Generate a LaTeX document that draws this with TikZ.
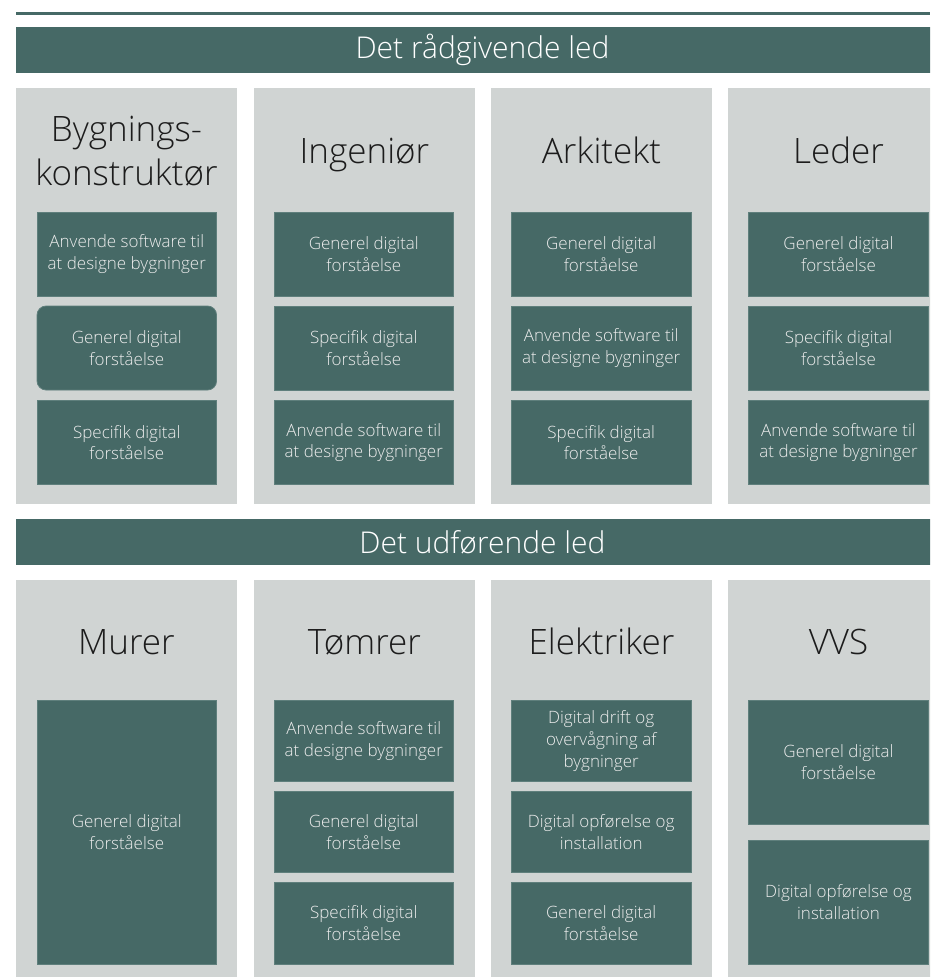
\documentclass[tikz,border=0pt]{standalone}
\usepackage{fontspec}
\setmainfont{Open Sans Light}
\definecolor{dteal}{HTML}{466966}
\definecolor{bteal}{HTML}{5F7F7C}
\definecolor{lgray}{HTML}{D0D4D3}
\definecolor{boxtext}{HTML}{EDEDED}
\definecolor{titletext}{HTML}{1C1C1C}
\begin{document}
\begin{tikzpicture}[x=1pt,y=-1pt,
  colbox/.style={fill=lgray, draw=none, anchor=north west, inner sep=0, minimum width=221pt},
  bandbox/.style={fill=dteal, draw=none, inner sep=0, minimum width=933pt, minimum height=46pt},
  bandtext/.style={text=white, font=\fontsize{30}{36}\selectfont, inner sep=0},
  skill/.style={fill=dteal, draw=bteal, line width=0.8pt, text=boxtext, align=center,
    font=\fontsize{17}{21.7}\selectfont, inner sep=0, minimum width=179.5pt},
  ctitle/.style={text=titletext, font=\fontsize{35}{44}\selectfont, anchor=base, inner sep=0}]
\useasboundingbox (0,0) rectangle (930,977);
\clip (0,0) rectangle (930,977);
\fill[white] (0,0) rectangle (930,977);
% top rule
\fill[dteal] (16,12.3) rectangle (930,15);
% band 1
\node[bandbox] (band1) at (482.5,50) {};
\node[bandtext] (band1t) at (482.5,50) {\vphantom{D}Det rådgivende led};
% upper columns
\node[colbox, minimum height=416pt] (c1) at (16,88) {};
\node[colbox, minimum height=416pt] (c2) at (254,88) {};
\node[colbox, minimum height=416pt] (c3) at (491,88) {};
\node[colbox, minimum height=416pt] (c4) at (728,88) {};
\node[ctitle] (t1a) at (126.5,141) {Bygnings-};
\node[ctitle] (t1b) at (126.5,185) {konstruktør};
\node[ctitle] (t2) at (364.5,163) {Ingeniør};
\node[ctitle] (t3) at (601.5,163) {Arkitekt};
\node[ctitle] (t4) at (838.5,163) {Leder};
% upper skill boxes
\node[skill, minimum height=84pt] (a1) at (126.8,253.9) {Anvende software til\\at designe bygninger};
\node[skill, minimum height=84pt, rounded corners=9pt] (a2) at (126.8,348) {Generel digital\\forståelse};
\node[skill, minimum height=84pt] (a3) at (126.8,442.5) {Specifik digital\\forståelse};
\node[skill, minimum height=84pt] (b1) at (363.8,253.9) {Generel digital\\forståelse};
\node[skill, minimum height=84pt] (b2) at (363.8,348) {Specifik digital\\forståelse};
\node[skill, minimum height=84pt] (b3) at (363.8,442.5) {Anvende software til\\at designe bygninger};
\node[skill, minimum height=84pt] (c1s) at (601.2,253.9) {Generel digital\\forståelse};
\node[skill, minimum height=84pt] (c2s) at (601.2,348) {Anvende software til\\at designe bygninger};
\node[skill, minimum height=84pt] (c3s) at (601.2,442.5) {Specifik digital\\forståelse};
\node[skill, minimum height=84pt] (d1) at (838.5,253.9) {Generel digital\\forståelse};
\node[skill, minimum height=84pt] (d2) at (838.5,348) {Specifik digital\\forståelse};
\node[skill, minimum height=84pt] (d3) at (838.5,442.5) {Anvende software til\\at designe bygninger};
% band 2
\node[bandbox] (band2) at (482.5,542) {};
\node[bandtext] (band2t) at (482.5,542) {\vphantom{D}Det udførende led};
% lower columns
\node[colbox, minimum height=397pt] (l1) at (16,580) {};
\node[colbox, minimum height=397pt] (l2) at (254,580) {};
\node[colbox, minimum height=397pt] (l3) at (491,580) {};
\node[colbox, minimum height=397pt] (l4) at (728,580) {};
\node[ctitle] (u1) at (126.5,654) {Murer};
\node[ctitle] (u2) at (364.5,654) {Tømrer};
\node[ctitle] (u3) at (601.5,654) {Elektriker};
\node[ctitle] (u4) at (838.5,654) {VVS};
% lower skill boxes
\node[skill, minimum height=264pt] (m1) at (126.8,832) {Generel digital\\forståelse};
\node[skill, minimum height=81.7pt] (n1) at (363.8,740.9) {Anvende software til\\at designe bygninger};
\node[skill, minimum height=81pt] (n2) at (363.8,832.2) {Generel digital\\forståelse};
\node[skill, minimum height=81.3pt] (n3) at (363.8,923.4) {Specifik digital\\forståelse};
\node[skill, minimum height=81.7pt] (e1) at (601.2,740.9) {Digital drift og\\overvågning af\\bygninger};
\node[skill, minimum height=81pt] (e2) at (601.2,832.2) {Digital opførelse og\\installation};
\node[skill, minimum height=81.3pt] (e3) at (601.2,923.4) {Generel digital\\forståelse};
\node[skill, minimum height=124pt] (v1) at (838.5,762) {Generel digital\\forståelse};
\node[skill, minimum height=124pt] (v2) at (838.5,902) {Digital opførelse og\\installation};
\end{tikzpicture}
\end{document}
